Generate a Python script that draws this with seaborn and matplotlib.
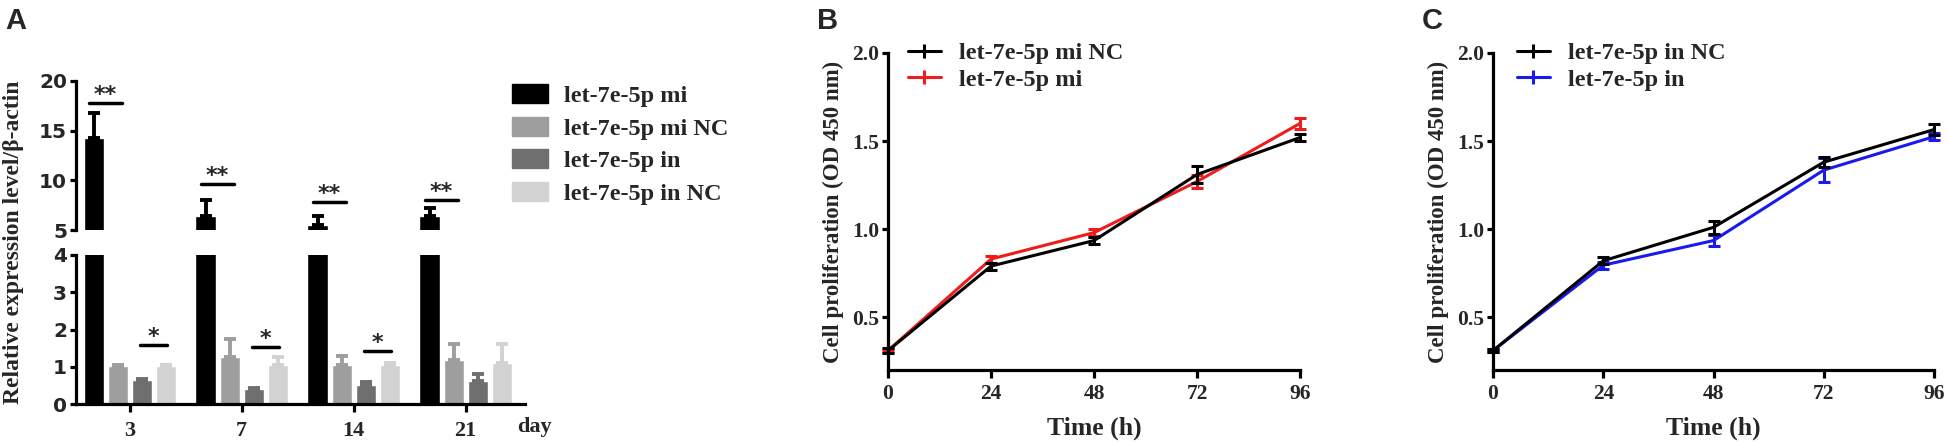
import numpy as np
import pandas as pd
import matplotlib
matplotlib.use("Agg")
import matplotlib.pyplot as plt
import seaborn as sns
from matplotlib.lines import Line2D
from matplotlib.patches import Patch

# ---------------- data ----------------
days = ["3", "7", "14", "21"]
groups_A = ["let-7e-5p mi", "let-7e-5p mi NC", "let-7e-5p in", "let-7e-5p in NC"]
expr_mi = [14.3, 6.4, 5.5, 6.4]
expr_mi_err = [2.5, 1.6, 0.9, 0.8]
expr_miNC = [1.03, 1.25, 1.06, 1.18]
expr_miNC_err = [0.03, 0.50, 0.22, 0.43]
expr_in = [0.65, 0.40, 0.51, 0.62]
expr_in_err = [0.02, 0.02, 0.08, 0.18]
expr_inNC = [1.03, 1.06, 1.04, 1.11]
expr_inNC_err = [0.03, 0.21, 0.07, 0.50]
bar_colors = ["#000000", "#9e9e9e", "#6f6f6f", "#d2d2d2"]

sig2_y = [17.8, 9.6, 7.8, 8.05]      # "**" lines (mi vs mi NC), days 3,7,14,21
sig1_days = ["3", "7", "14"]         # "*" lines (in vs in NC)
sig1_y = [1.59, 1.52, 1.43]

time_h = [0, 24, 48, 72, 96]
miNC_od = [0.31, 0.79, 0.935, 1.31, 1.52]
miNC_err = [0.015, 0.02, 0.02, 0.05, 0.02]
mi_od = [0.31, 0.83, 0.98, 1.27, 1.60]
mi_err = [0.01, 0.02, 0.02, 0.035, 0.03]
inNC_od = [0.31, 0.82, 1.01, 1.38, 1.565]
inNC_err = [0.01, 0.02, 0.035, 0.03, 0.03]
in_od = [0.31, 0.795, 0.935, 1.335, 1.525]
in_err = [0.01, 0.02, 0.03, 0.07, 0.02]

labels_B = ["let-7e-5p mi NC", "let-7e-5p mi"]
labels_C = ["let-7e-5p in NC", "let-7e-5p in"]
red = "#ee1c1c"
blue = "#1a1aee"

# ---------------- style ----------------
sns.set_style("ticks")
plt.rcParams["font.family"] = ["Liberation Serif", "DejaVu Serif"]
plt.rcParams["font.weight"] = "bold"
plt.rcParams["axes.linewidth"] = 2.2

W, H = 1950, 442
fig = plt.figure(figsize=(W / 100, H / 100), dpi=100)


def fx(px):
    return px / W


def fy(px):
    return 1 - px / H


def style(ax, left=True, bottom=True):
    for s in ["top", "right"]:
        ax.spines[s].set_visible(False)
    ax.spines["left"].set_visible(left)
    ax.spines["bottom"].set_visible(bottom)
    for s in ["left", "bottom"]:
        ax.spines[s].set_linewidth(2.3)
        ax.spines[s].set_color("black")
    ax.tick_params(axis="both", width=2.3, length=4.5, color="black", direction="out")


# ---------------- panel A ----------------
axA_top = fig.add_axes([fx(76), fy(230), fx(525 - 76), (230 - 81) / H])
axA_bot = fig.add_axes([fx(76), fy(404), fx(525 - 76), (404 - 255) / H])

dfA = pd.DataFrame({
    "day": days * 4,
    "group": sum([[g] * 4 for g in groups_A], []),
    "value": expr_mi + expr_miNC + expr_in + expr_inNC,
})
errs = [expr_mi_err, expr_miNC_err, expr_in_err, expr_inNC_err]
vals = [expr_mi, expr_miNC, expr_in, expr_inNC]

cen = None
for ax in (axA_top, axA_bot):
    sns.barplot(data=dfA, x="day", y="value", hue="group", order=days,
                hue_order=groups_A, palette=bar_colors, width=0.86, gap=0.16,
                errorbar=None, legend=False, saturation=1, ax=ax)
    bar_conts = list(ax.containers)
    centers = [[b.get_x() + b.get_width() / 2 for b in c] for c in bar_conts]
    cen = centers
    for j, xs in enumerate(centers):
        ax.errorbar(xs, vals[j], yerr=[np.zeros(4), errs[j]], fmt="none",
                    ecolor=bar_colors[j], elinewidth=2.8, capsize=4.5, capthick=2.8)
    ax.set_xlim(-0.48, 3.53)
    ax.set_xlabel("")
    ax.set_ylabel("")

axA_top.set_ylim(5, 20)
axA_top.set_yticks([5, 10, 15, 20])
axA_top.set_xticks([])
style(axA_top, bottom=False)
axA_bot.set_ylim(0, 4)
axA_bot.set_yticks([0, 1, 2, 3, 4])
style(axA_bot)
axA_bot.tick_params(axis="x", length=6, pad=6)
for ax in (axA_top, axA_bot):
    for t in ax.get_yticklabels():
        t.set_fontfamily("DejaVu Sans")
        t.set_fontweight("bold")
        t.set_fontsize(14.5)
    ax.tick_params(axis="y", pad=2)
for t in axA_bot.get_xticklabels():
    t.set_fontsize(16)
    t.set_fontweight("bold")

# significance
for i, y in enumerate(sig2_y):
    mid = (cen[0][i] + cen[1][i]) / 2
    axA_top.plot([mid - 0.15, mid + 0.15], [y, y], color="black", lw=2.5)
    axA_top.annotate("**", xy=(mid, y), xytext=(0, 1.5), textcoords="offset points",
                     ha="center", va="baseline", fontsize=16, fontweight="bold",
                     family="DejaVu Sans", annotation_clip=False)
for d, y in zip(sig1_days, sig1_y):
    i = days.index(d)
    mid = (cen[2][i] + cen[3][i]) / 2
    axA_bot.plot([mid - 0.12, mid + 0.12], [y, y], color="black", lw=2.5)
    axA_bot.annotate("*", xy=(mid, y), xytext=(0, 1.5), textcoords="offset points",
                     ha="center", va="baseline", fontsize=16, fontweight="bold",
                     family="DejaVu Sans")

fig.text(fx(534), fy(427), "day", ha="center", va="center", fontsize=16, fontweight="bold")
fig.text(fx(14), fy(242), "Relative expression level/\u03b2-actin", rotation=90,
         ha="center", va="center", fontsize=17, fontweight="bold")

handles_A = [Patch(facecolor=c, edgecolor=c) for c in bar_colors]
fig.legend(handles_A, groups_A, loc="upper left", bbox_to_anchor=(fx(512), fy(84)),
           frameon=False, borderaxespad=0, borderpad=0, fontsize=17.5,
           handlelength=1.5, handleheight=0.82, handletextpad=0.65, labelspacing=0.4)

# ---------------- panels B & C ----------------
def line_panel(left_px, right_px, series, labels, leg_x):
    ax = fig.add_axes([fx(left_px), fy(370), fx(right_px - left_px), (370 - 53) / H])
    for (yv, ye, col) in series:
        sns.lineplot(x=time_h, y=yv, color=col, lw=2.2, ax=ax, errorbar=None)
        ax.errorbar(time_h, yv, yerr=ye, fmt="none", ecolor=col, elinewidth=2.2,
                    capsize=4, capthick=2.2, clip_on=False)
    ax.set_xlim(0, 96)
    ax.set_ylim(0.2, 2.0)
    ax.set_xticks(time_h)
    ax.set_yticks([0.5, 1.0, 1.5, 2.0])
    ax.set_yticklabels(["0.5", "1.0", "1.5", "2.0"])
    style(ax)
    ax.tick_params(axis="x", length=6, pad=4)
    ax.tick_params(axis="y", length=4.5, pad=2)
    for t in ax.get_xticklabels() + ax.get_yticklabels():
        t.set_fontsize(15.5)
        t.set_fontweight("bold")
    ax.set_xlabel("Time (h)", fontsize=18.5, fontweight="bold", labelpad=9)
    ax.set_ylabel("Cell proliferation (OD 450 nm)", fontsize=16.5, fontweight="bold", labelpad=6)
    hs = [Line2D([0], [0], color=col, lw=2.2, marker="|", markersize=10,
                 markeredgewidth=2.2) for (_, _, col) in series[::-1]]
    ax.legend(hs, labels, loc="upper left", bbox_to_anchor=(fx(leg_x), fy(42)),
              bbox_transform=fig.transFigure, frameon=False, borderaxespad=0,
              borderpad=0, fontsize=17.5, handlelength=1.35, handletextpad=0.75,
              labelspacing=0.2)
    return ax

axB = line_panel(888, 1300, [(mi_od, mi_err, red), (miNC_od, miNC_err, "black")],
                 labels_B, 908)
axC = line_panel(1493, 1934, [(in_od, in_err, blue), (inNC_od, inNC_err, "black")],
                 labels_C, 1517)

for x, s in [(5, "A"), (817, "B"), (1422, "C")]:
    fig.text(fx(x), fy(7), s, ha="left", va="top", fontsize=21, fontweight="bold",
             family="Liberation Sans")

fig.savefig("out.png", dpi=100)
